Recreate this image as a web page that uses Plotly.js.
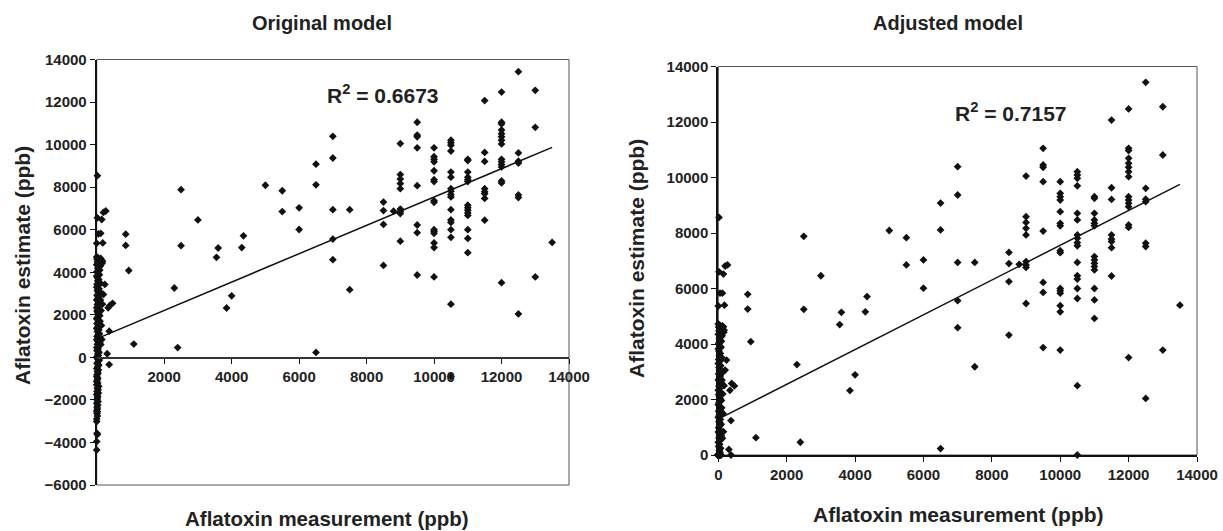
<!DOCTYPE html>
<html>
<head>
<meta charset="utf-8">
<script src="https://cdn.plot.ly/plotly-3.0.1.min.js"></script>
<style>html,body{margin:0;padding:0;background:#fff}#chart{width:1223px;height:531px}</style>
</head>
<body>
<div id="chart"></div>
<script>
// ---- Data (ppb) ----
// Measurement columns of the higher-range samples
const colMeasurement = [860, 950, 1100, 2300, 2400, 2500, 3000, 3550, 3600, 3850, 4000, 4300, 4350,
  5000, 5500, 6000, 6500, 7000, 7500, 8500, 8800, 9000, 9500, 10000, 10500, 11000, 11500, 12000,
  12500, 13000, 13500];
// Estimates per column, original model
const colEstimateOriginal = [
  [5789, 5260], [4083], [625], [3260], [460], [7880, 5250], [6460], [4700], [5140], [2320], [2890],
  [5160], [5710], [8090], [7830, 6850], [7030, 6010], [9080, 8110, 230],
  [10390, 9370, 6940, 5560, 4590], [6940, 3180], [7300, 6900, 6250, 4320], [6870],
  [10050, 8590, 8380, 8170, 7930, 6970, 6850, 6760, 5460],
  [11050, 10450, 10370, 9850, 8070, 6220, 5860, 3870],
  [9850, 9430, 9310, 9190, 8770, 8350, 8260, 7360, 7290, 6000, 5920, 5830, 5380, 5160, 3780],
  [10210, 10090, 9970, 9700, 8710, 8470, 7930, 7810, 7650, 7540, 6940, 6460, 6340, 6000, 5640, 2500, -900],
  [9310, 9250, 8710, 8470, 8350, 8260, 7150, 7030, 6910, 6790, 6670, 6000, 5590, 4920],
  [12070, 9630, 9210, 7930, 7780, 7690, 7470, 6450],
  [12470, 11050, 10970, 10690, 10510, 10370, 10210, 10030, 9310, 9190, 9070, 8950, 8290, 8200, 3510],
  [13430, 9610, 9220, 9130, 7630, 7510, 2040], [12550, 10810, 3780], [5400]
];
// Estimates per column, adjusted model
const colEstimateAdjusted = [
  [5789, 5260], [4083], [625], [3260], [460], [7880, 5250], [6460], [4700], [5140], [2320], [2890],
  [5160], [5710], [8090], [7830, 6850], [7030, 6010], [9080, 8110, 230],
  [10390, 9370, 6940, 5560, 4590], [6940, 3180], [7300, 6900, 6250, 4320], [6870],
  [10050, 8590, 8380, 8170, 7930, 6970, 6850, 6760, 5460],
  [11050, 10450, 10370, 9850, 8070, 6220, 5860, 3870],
  [9850, 9430, 9310, 9190, 8770, 8350, 8260, 7360, 7290, 6000, 5920, 5830, 5380, 5160, 3780],
  [10210, 10090, 9970, 9700, 8710, 8470, 7930, 7810, 7650, 7540, 6940, 6460, 6340, 6000, 5640, 2500, 0],
  [9310, 9250, 8710, 8470, 8350, 8260, 7150, 7030, 6910, 6790, 6670, 6000, 5590, 4920],
  [12070, 9630, 9210, 7930, 7780, 7690, 7470, 6450],
  [12470, 11050, 10970, 10690, 10510, 10370, 10210, 10030, 9310, 9190, 9070, 8950, 8290, 8200, 3510],
  [13430, 9610, 9220, 9130, 7630, 7510, 2040], [12550, 10810, 3780], [5400]
];

// Low-range samples (measurement below ~500 ppb)
const lowMeasurement = [
  20, 200, 270, 20, 150, 50, 120, 0, 180, 150, 240, 200, 390, 470, 340, 370, 150, 310, 370,
  120, 170, 110, 160, 90, 140, 110, 170, 130, 100, 140, 80, 120,
  0, 40, 10, 70, 20, 50, 0, 90, 30, 60, 10, 40, 80, 0, 20, 60, 30, 100, 10, 50,
  0, 70, 20, 40, 90, 10, 60, 30, 0, 80, 50, 20, 40, 0, 70, 10, 30, 60, 90, 20,
  0, 50, 40, 10, 80, 30, 0, 60, 20, 70, 40, 10, 50, 0, 30, 90, 20, 60, 0, 40,
  10, 70, 30, 50, 0, 20, 80, 40, 10, 60, 30, 0, 50, 20, 40, 10, 0, 30, 20, 0,
  30, 0, 60, 20, 40, 10, 50, 0, 30, 20, 10, 40, 0, 30, 10, 20, 0, 10, 20, 0,
  0, 0, 10, 20, 0, 20
];
const lowEstimateOriginal = [
  8540, 6810, 6880, 6560, 6480, 5800, 5830, 5360, 5380, 4560, 3430, 2960, 2440, 2540, 2330, 1230, 840, 170, -340,
  4650, 4500, 4300, 4420, 4100, 3000, 2700, 2500, 2200, 1700, 1500, 1100, 600,
  4720, 4680, 4610, 4550, 4480, 4420, 4350, 4270, 4190, 4100, 4030, 3950, 3880, 3820, 3740, 3660, 3590, 3510,
  3440, 3380, 3300, 3220, 3150, 3080, 2990, 2920, 2850, 2770, 2700, 2620, 2560, 2480, 2400, 2330, 2250, 2180,
  2100, 2030, 1960, 1880, 1810, 1730, 1650, 1580, 1500, 1430, 1360, 1280, 1210, 1130, 1050, 980, 900, 830,
  760, 690, 610, 540, 460, 390, 310, 240, 160, 90, 20, -60, -130, -210, -290, -360, -440, -520, -590, -670,
  -750, -820, -900, -980, -1050, -1130, -1210, -1290, -1360, -1440, -1520, -1600, -1670, -1750, -1830, -1910,
  -1990, -2080, -2160, -2250, -2340, -2430, -2520, -2640, -2760, -2900,
  -4350, -3960, -3570, -3630, -3020, -2560
];
const lowEstimateAdjusted = [
  8560, 6810, 6850, 6600, 6520, 5830, 5830, 5370, 5400, 4620, 3420, 3060, 2580, 2490, 2330, 1240, 840, 200, 0,
  4650, 4500, 4300, 4420, 4100, 3000, 2700, 2500, 2200, 1700, 1500, 1100, 600,
  4720, 4680, 4610, 4550, 4480, 4420, 4350, 4270, 4190, 4100, 4030, 3950, 3880, 3820, 3740, 3660, 3590, 3510,
  3440, 3380, 3300, 3220, 3150, 3080, 2990, 2920, 2850, 2770, 2700, 2620, 2560, 2480, 2400, 2330, 2250, 2180,
  2100, 2030, 1960, 1880, 1810, 1730, 1650, 1580, 1500, 1430, 1360, 1280, 1210, 1130, 1050, 980, 900, 830,
  760, 690, 610, 540, 460, 390, 310, 240, 160, 90, 20, 0, 0, 0, 0, 0, 0, 0, 0, 0,
  0, 0, 0, 0, 0, 0, 0, 0, 0, 0, 0, 0, 0, 0, 0, 0,
  0, 0, 0, 0, 0, 0, 0, 0, 0, 0,
  0, 0, 0, 0, 0, 0
];

// Linear trend lines (end points)
const trendOriginalX = [100, 13500];
const trendOriginalY = [940, 9870];
const trendAdjustedX = [70, 13500];
const trendAdjustedY = [1340, 9750];

const r2Original = 'R<sup>2</sup> = 0.6673';
const r2Adjusted = 'R<sup>2</sup> = 0.7157';
const titleOriginal = 'Original model';
const titleAdjusted = 'Adjusted model';
const xTitle = 'Aflatoxin measurement (ppb)';
const yTitle = 'Aflatoxin estimate (ppb)';
const xTicksOriginal = [2000, 4000, 6000, 8000, 10000, 12000, 14000];

// ---- Build point lists ----
function flatten(cols, ests, lowX, lowY) {
  const x = [], y = [];
  cols.forEach((c, i) => ests[i].forEach(v => { x.push(c); y.push(v); }));
  lowX.forEach((v, i) => { x.push(v); y.push(lowY[i]); });
  return {x, y};
}
const ptsO = flatten(colMeasurement, colEstimateOriginal, lowMeasurement, lowEstimateOriginal);
const ptsA = flatten(colMeasurement, colEstimateAdjusted, lowMeasurement, lowEstimateAdjusted);

const FONT = 'Liberation Sans, Arial, Helvetica, sans-serif';
const marker = {symbol: 'diamond', size: 6, color: '#111'};

const traces = [
  {x: ptsO.x, y: ptsO.y, type: 'scatter', mode: 'markers', marker, xaxis: 'x', yaxis: 'y', cliponaxis: false},
  {x: trendOriginalX, y: trendOriginalY, type: 'scatter', mode: 'lines', line: {color: '#111', width: 1.5}, xaxis: 'x', yaxis: 'y'},
  {x: ptsA.x, y: ptsA.y, type: 'scatter', mode: 'markers', marker, xaxis: 'x2', yaxis: 'y2', cliponaxis: false},
  {x: trendAdjustedX, y: trendAdjustedY, type: 'scatter', mode: 'lines', line: {color: '#111', width: 1.5}, xaxis: 'x2', yaxis: 'y2'}
];

const W = 1223, H = 531;
const yDomL = [(H - 485) / H, (H - 59.5) / H];
const yDomR = [(H - 455) / H, (H - 66.5) / H];
const tickFont = {family: FONT, size: 15, color: '#222', weight: 'bold'};
const axCommon = {showgrid: false, zeroline: false, showline: true, linecolor: '#111', linewidth: 1.5,
  ticks: 'outside', ticklen: 5, tickcolor: '#111', tickwidth: 1, tickfont: tickFont, fixedrange: true,
  tickformat: 'd', exponentformat: 'none'};

const txt = (text, x, y, size, extra) => Object.assign({text: '<b>' + text + '</b>', xref: 'paper', yref: 'paper',
  x: x / W, y: (H - y) / H, xanchor: 'center', yanchor: 'middle', showarrow: false,
  font: {family: FONT, size: size, color: '#222'}}, extra || {});

const layout = {
  width: W, height: H, autosize: false,
  margin: {l: 0, r: 0, t: 0, b: 0, pad: 0},
  paper_bgcolor: '#fff', plot_bgcolor: '#fff', showlegend: false,
  font: {family: FONT, color: '#222'},
  xaxis: Object.assign({}, axCommon, {domain: [96.7 / W, 569 / W], range: [0, 14000], anchor: 'free',
    position: yDomL[0] + 0.3 * (yDomL[1] - yDomL[0]), tickvals: xTicksOriginal, linewidth: 1.2, linecolor: '#333'}),
  yaxis: Object.assign({}, axCommon, {domain: yDomL, range: [-6000, 14000], dtick: 2000, anchor: 'x', linewidth: 2}),
  xaxis2: Object.assign({}, axCommon, {domain: [718.3 / W, 1197 / W], range: [0, 14000], dtick: 2000, anchor: 'y2'}),
  yaxis2: Object.assign({}, axCommon, {domain: yDomR, range: [0, 14000], dtick: 2000, anchor: 'x2', linewidth: 2}),
  shapes: [
    {type: 'rect', xref: 'x domain', yref: 'y domain', x0: 0, x1: 1, y0: 0, y1: 1, line: {color: '#555', width: 1}, layer: 'below'},
    {type: 'rect', xref: 'x2 domain', yref: 'y2 domain', x0: 0, x1: 1, y0: 0, y1: 1, line: {color: '#555', width: 1}, layer: 'below'}
  ],
  annotations: [
    txt(titleOriginal, 322.5, 23, 20),
    txt(titleAdjusted, 948, 23, 20),
    txt(xTitle, 327, 518, 20.5),
    txt(xTitle, 958, 514, 21),
    txt(yTitle, 22, 266, 21, {textangle: -90}),
    txt(yTitle, 636, 258, 21, {textangle: -90}),
    {text: '<b>' + r2Original + '</b>', xref: 'x', yref: 'y', x: 8480, y: 12360, xanchor: 'center', yanchor: 'middle',
      showarrow: false, font: {family: FONT, size: 21, color: '#222'}},
    {text: '<b>' + r2Adjusted + '</b>', xref: 'x2', yref: 'y2', x: 8560, y: 12360, xanchor: 'center', yanchor: 'middle',
      showarrow: false, font: {family: FONT, size: 21, color: '#222'}}
  ]
};

Plotly.newPlot('chart', traces, layout, {displayModeBar: false, staticPlot: true});
</script>
</body>
</html>
